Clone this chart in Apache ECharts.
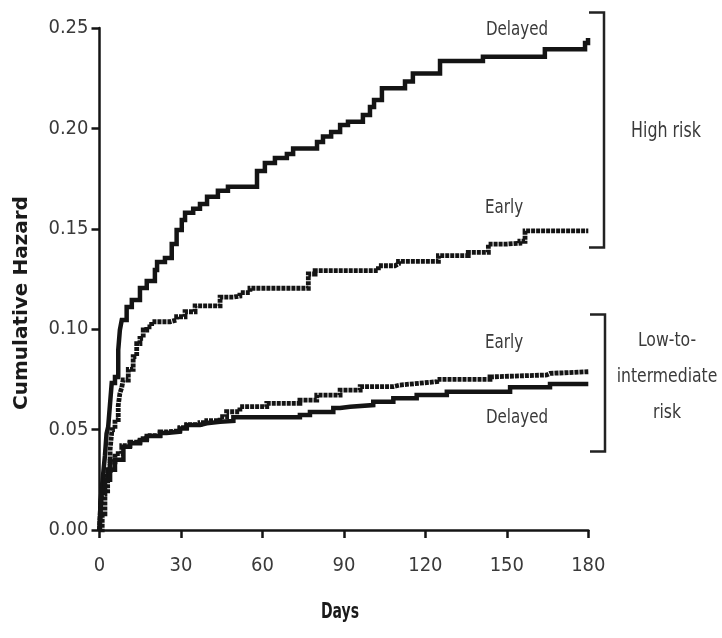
<!DOCTYPE html>
<html>
<head>
<meta charset="utf-8">
<script src="https://cdn.jsdelivr.net/npm/echarts@6/dist/echarts.min.js"></script>
<style>
  html, body { margin: 0; padding: 0; background: #fff; }
  #chart { width: 722px; height: 638px; }
</style>
</head>
<body>
<div id="chart"></div>
<script>
// Cumulative hazard step curves, day of event and hazard after the step
const highDelayedDays = [0, 0.5, 0.8, 1.5, 2, 2.6, 3.2, 3.9, 4.5, 5.7, 6.9, 7.5, 8.2, 10, 11.9, 14.9, 17.4, 20.4, 21.2, 24.1, 26.6, 28.4, 30.3, 31.5, 34.5, 37, 39.6, 43.6, 47.3, 58, 60.9, 64.6, 69, 71.3, 80.1, 82.3, 85.3, 88.6, 91.5, 97, 99.6, 101.1, 104, 112.5, 115.4, 125.4, 141.2, 164, 178.8, 179.9];
const highDelayedHazard = [0, 0.012, 0.02, 0.03, 0.037, 0.048, 0.0514, 0.0632, 0.0732, 0.0762, 0.0896, 0.0996, 0.1046, 0.111, 0.1145, 0.1205, 0.124, 0.1295, 0.1335, 0.1355, 0.1424, 0.1494, 0.1544, 0.158, 0.160, 0.1624, 0.166, 0.169, 0.171, 0.1788, 0.1828, 0.1853, 0.1873, 0.190, 0.1932, 0.196, 0.1982, 0.2017, 0.2033, 0.2067, 0.2107, 0.2141, 0.220, 0.2233, 0.2274, 0.2336, 0.2357, 0.2394, 0.2425, 0.245];

const highEarlyDays = [0, 1, 2, 3, 3.9, 4.6, 5.7, 6.9, 7.5, 8.2, 8.7, 10.6, 12.4, 13.7, 14.9, 16.1, 17.4, 19.2, 26, 28.4, 31.5, 35.2, 44.4, 49.3, 51.7, 55.4, 76.9, 79.4, 102.7, 108.8, 110.1, 124.8, 135.8, 143.2, 149.9, 154.8, 156.7, 180];
const highEarlyHazard = [0, 0.008, 0.018, 0.03, 0.04, 0.05, 0.055, 0.062, 0.068, 0.071, 0.0747, 0.080, 0.0863, 0.0928, 0.0954, 0.0996, 0.1012, 0.1037, 0.1046, 0.1062, 0.1087, 0.1116, 0.116, 0.1165, 0.1182, 0.1204, 0.1275, 0.1292, 0.1316, 0.1325, 0.1338, 0.1366, 0.1383, 0.1424, 0.1428, 0.1438, 0.149, 0.149];

const lowEarlyDays = [0, 0.4, 1, 2, 3.9, 5.7, 8.2, 11.2, 14.9, 17.4, 22.3, 24.7, 29.6, 32.1, 37, 39.5, 44.4, 46.8, 51.7, 61.6, 73.8, 80, 88.6, 96, 108.2, 110.6, 118, 124.2, 143.8, 145, 164.7, 165.9, 180];
const lowEarlyHazard = [0, 0.012, 0.02, 0.028, 0.034, 0.038, 0.042, 0.0438, 0.0455, 0.047, 0.0488, 0.0495, 0.051, 0.0525, 0.0535, 0.0545, 0.0564, 0.0589, 0.0614, 0.0631, 0.0647, 0.0672, 0.0697, 0.0714, 0.0722, 0.0731, 0.0739, 0.075, 0.0763, 0.0772, 0.078, 0.0788, 0.0788];

const lowDelayedDays = [0, 0.4, 0.8, 2, 3.9, 5.7, 8.8, 11.2, 14.9, 17.4, 22.3, 24.7, 29.6, 32.1, 37, 39.5, 44.4, 49.3, 73.8, 77.5, 86.1, 88.6, 92.3, 100.8, 108.2, 116.8, 127.9, 151.2, 165.9, 180];
const lowDelayedHazard = [0, 0.015, 0.02, 0.025, 0.03, 0.035, 0.0415, 0.0432, 0.0448, 0.0468, 0.0483, 0.049, 0.0506, 0.0523, 0.0531, 0.0539, 0.0543, 0.0561, 0.0573, 0.0588, 0.0608, 0.0614, 0.0622, 0.0639, 0.0656, 0.0672, 0.0689, 0.0711, 0.0727, 0.0727];

const dayTicks = { min: 0, max: 180, interval: 30 };
const hazardTicks = { min: 0, max: 0.25, interval: 0.05 };

const narrow = '"DejaVu Sans Condensed", "Liberation Sans Narrow", sans-serif';
const ink = '#141414';
const textInk = '#3a3a3a';

function pairs(xs, ys) { return xs.map((x, i) => [x, ys[i]]); }

const solidStyle = { color: ink, width: 4.5, type: 'solid', cap: 'butt', join: 'miter' };
const dottedStyle = { color: ink, width: 4.8, type: [4, 1], cap: 'butt', join: 'miter' };

function curve(name, xs, ys, style) {
  return {
    name, type: 'line', step: 'end', showSymbol: false, symbol: 'none',
    data: pairs(xs, ys), lineStyle: style, silent: true, z: 3
  };
}

const chart = echarts.init(document.getElementById('chart'), null, { renderer: 'canvas' });

// condensed caption text: narrowed horizontally around its centre point
const annot = (text, x, y, size, squeeze) => ({
  type: 'text', x, y, scaleX: squeeze || 0.84, silent: true,
  style: { text, x: 0, y: 0, font: (size || 20) + 'px ' + narrow, fill: textInk,
           align: 'center', verticalAlign: 'middle', textAlign: 'center', textVerticalAlign: 'middle' }
});

const bracket = (x, y1, y2) => ({
  type: 'polyline', silent: true,
  shape: { points: [[x - 15, y1], [x, y1], [x, y2], [x - 15, y2]] },
  style: { stroke: '#222', lineWidth: 2.5, fill: null }
});

chart.setOption({
  animation: false,
  backgroundColor: '#fff',
  grid: { left: 99.5, right: 133.7, top: 28, bottom: 108, containLabel: false },
  xAxis: {
    type: 'value', min: dayTicks.min, max: dayTicks.max, interval: dayTicks.interval,
    axisLine: { show: true, onZero: false, lineStyle: { color: ink, width: 2.5 } },
    axisTick: { show: true, length: 8, lineStyle: { color: ink, width: 2.5 } },
    axisLabel: { margin: 26, color: textInk, fontFamily: narrow, fontSize: 20 },
    splitLine: { show: false }
  },
  yAxis: {
    type: 'value', min: hazardTicks.min, max: hazardTicks.max, interval: hazardTicks.interval,
    axisLine: { show: true, onZero: false, lineStyle: { color: ink, width: 2.5 } },
    axisTick: { show: true, length: 8, lineStyle: { color: ink, width: 2.5 } },
    axisLabel: { margin: 11, color: textInk, fontFamily: narrow, fontSize: 20,
                 formatter: v => v.toFixed(2) },
    splitLine: { show: false }
  },
  series: [
    curve('High risk, delayed', highDelayedDays, highDelayedHazard, solidStyle),
    curve('High risk, early', highEarlyDays, highEarlyHazard, dottedStyle),
    curve('Low-to-intermediate risk, early', lowEarlyDays, lowEarlyHazard, dottedStyle),
    curve('Low-to-intermediate risk, delayed', lowDelayedDays, lowDelayedHazard, solidStyle)
  ],
  graphic: [
    {
      type: 'text', x: 22, y: 303, rotation: Math.PI / 2, silent: true,
      style: { text: 'Cumulative Hazard', x: 0, y: 0, font: 'bold 20px "DejaVu Sans", sans-serif',
               fill: '#1a1a1a', align: 'center', verticalAlign: 'middle',
               textAlign: 'center', textVerticalAlign: 'middle' }
    },
    {
      type: 'text', x: 340, y: 613, scaleX: 0.74, silent: true,
      style: { text: 'Days', x: 0, y: 0, font: 'bold 21px ' + narrow,
               fill: '#1a1a1a', align: 'center', verticalAlign: 'middle',
               textAlign: 'center', textVerticalAlign: 'middle' }
    },
    annot('Delayed', 517, 30),
    annot('Early', 504, 208),
    annot('Early', 504, 343),
    annot('Delayed', 517, 418),
    annot('High risk', 666, 132, 21),
    annot('Low-to-', 667, 341, 20, 0.87),
    annot('intermediate', 667, 377, 20, 0.87),
    annot('risk', 667, 413, 20, 0.87),
    bracket(604, 12.5, 247.5),
    bracket(605, 314.5, 451.5)
  ]
});
</script>
</body>
</html>
